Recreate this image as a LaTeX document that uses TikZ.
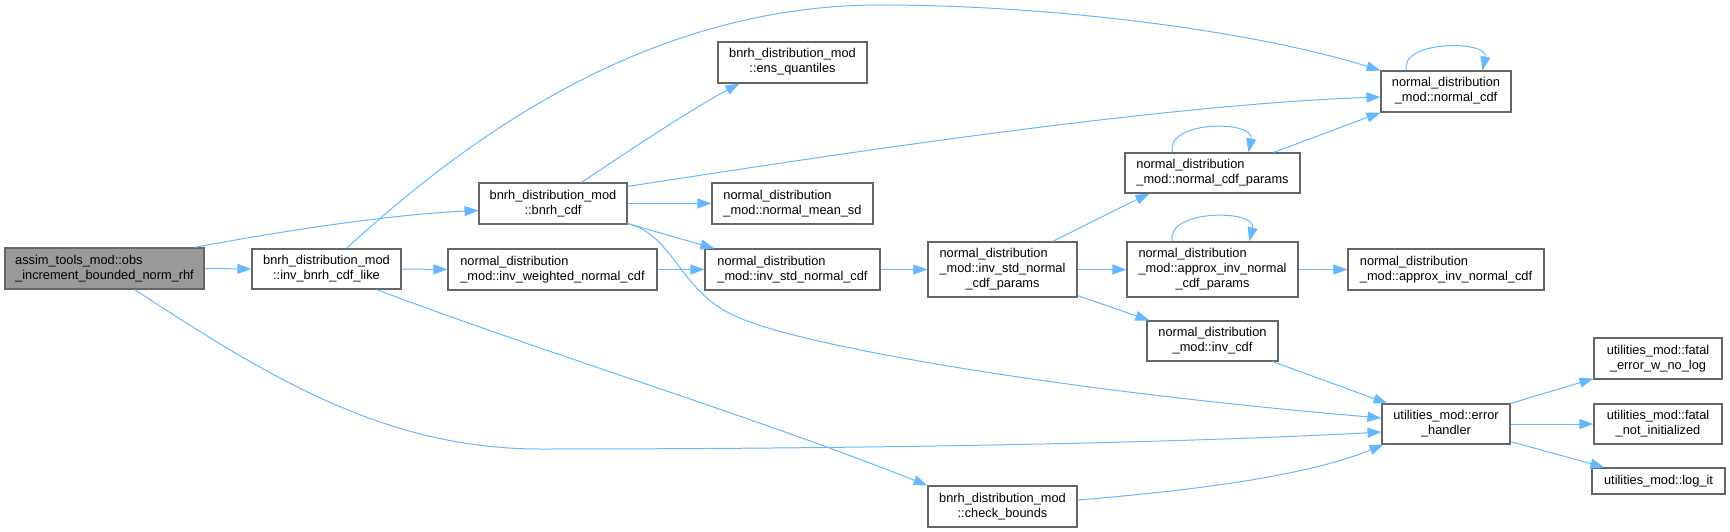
\documentclass[tikz,border=0pt]{standalone}
\usepackage{fontspec}
\setmainfont{Liberation Sans}
\usetikzlibrary{arrows.meta,calc}
\definecolor{edgec}{HTML}{63B8FF}
\definecolor{boxc}{HTML}{666666}
\definecolor{hl}{HTML}{999999}
\newcommand\lbl[2]{\begin{tabular}{@{}l@{}}#1\\\multicolumn{1}{@{}c@{}}{#2}\end{tabular}}
\newcommand\lblthree[3]{\begin{tabular}{@{}l@{}}#1\\#2\\\multicolumn{1}{@{}c@{}}{#3}\end{tabular}}
\tikzset{
  box/.style={draw=boxc, line width=1.1pt, fill=white, inner sep=0pt, text=black,
    font=\fontsize{12.8}{15}\selectfont},
  sz/.style 2 args={minimum width=#1pt, minimum height=#2pt},
  edge/.style={draw=edgec, line width=1pt, -{Triangle[length=14pt,width=10pt]}}
}
\begin{document}
\begin{tikzpicture}[x=1pt,y=-1pt]
\useasboundingbox (0,0) rectangle (1730,532);
% nodes
\node[box,sz={199}{41},fill=hl] (assim) at (104.5,268.5) {\lbl{assim\_tools\_mod::obs}{\_increment\_bounded\_norm\_rhf}};
\node[box,sz={149}{40}] (invlike) at (326.5,269) {\lbl{bnrh\_distribution\_mod}{::inv\_bnrh\_cdf\_like}};
\node[box,sz={148}{41}] (bnrh) at (553,203.5) {\lbl{bnrh\_distribution\_mod}{::bnrh\_cdf}};
\node[box,sz={149}{41}] (ensq) at (792.5,62.5) {\lbl{bnrh\_distribution\_mod}{::ens\_quantiles}};
\node[box,sz={161}{41}] (meansd) at (792.5,203.5) {\lbl{normal\_distribution}{\_mod::normal\_mean\_sd}};
\node[box,sz={209}{41}] (invw) at (552.5,269.5) {\lbl{normal\_distribution}{\_mod::inv\_weighted\_normal\_cdf}};
\node[box,sz={175}{41}] (invstd) at (792.5,269.5) {\lbl{normal\_distribution}{\_mod::inv\_std\_normal\_cdf}};
\node[box,sz={149}{55}] (isp) at (1002.5,269.5) {\lblthree{normal\_distribution}{\_mod::inv\_std\_normal}{\_cdf\_params}};
\node[box,sz={175}{40}] (ncp) at (1212.5,173) {\lbl{normal\_distribution}{\_mod::normal\_cdf\_params}};
\node[box,sz={171}{55}] (aip) at (1212.5,269.5) {\lblthree{normal\_distribution}{\_mod::approx\_inv\_normal}{\_cdf\_params}};
\node[box,sz={130}{41}] (ncdf) at (1446,91.5) {\lbl{normal\_distribution}{\_mod::normal\_cdf}};
\node[box,sz={196}{41}] (aic) at (1446,269.5) {\lbl{normal\_distribution}{\_mod::approx\_inv\_normal\_cdf}};
\node[box,sz={131}{40}] (invcdf) at (1212.5,341) {\lbl{normal\_distribution}{\_mod::inv\_cdf}};
\node[box,sz={149}{41}] (chk) at (1002.5,506.5) {\lbl{bnrh\_distribution\_mod}{::check\_bounds}};
\node[box,sz={128}{40}] (err) at (1446,424) {\lbl{utilities\_mod::error}{\_handler}};
\node[box,sz={128}{41}] (fe) at (1658,358.5) {\lbl{utilities\_mod::fatal}{\_error\_w\_no\_log}};
\node[box,sz={128}{40}] (fn) at (1658,424) {\lbl{utilities\_mod::fatal}{\_not\_initialized}};
\node[box,sz={133}{26}] (logit) at (1658.5,481) {utilities\_mod::log\_it};
% edges
\draw[edge] ($(assim.north west)+(190,0)$) .. controls (260,235) and (380,215) .. ($(bnrh.west)+(0,7)$);
\draw[edge] (assim.east) -- (invlike.west);
\draw[edge] ($(assim.south west)+(130,0)$) .. controls (260,371) and (380,449) .. (540,449) .. controls (900,449) and (1200,442) .. ($(err.west)+(0,8)$);
\draw[edge] ($(invlike.north west)+(95,0)$) .. controls (470,135) and (650,5) .. (880,5) .. controls (1050,5) and (1250,30) .. (ncdf.north west);
\draw[edge] (invlike.east) -- (invw.west);
\draw[edge] ($(invlike.south west)+(125,0)$) .. controls (550,355) and (750,415) .. (chk.north west);
\draw[edge] (invw.east) -- (invstd.west);
\draw[edge] ($(bnrh.north west)+(103,0)$) .. controls (630,150) and (690,110) .. ($(ensq.south west)+(22,0)$);
\draw[edge] ($(bnrh.north east)+(0,4)$) .. controls (800,160) and (1150,105) .. ($(ncdf.west)+(0,5.5)$);
\draw[edge] (bnrh.east) -- (meansd.west);
\draw[edge] ($(bnrh.south east)+(0,-1)$) -- ($(invstd.north west)+(10,0)$);
\draw[edge] ($(bnrh.south east)+(0,-1)$) .. controls (675,235) and (680,295) .. (740,318) .. controls (800,345) and (1050,390) .. ($(err.west)+(0,-6)$);
\draw[edge] (invstd.east) -- (isp.west);
\draw[edge] ($(isp.north west)+(125,0)$) .. controls (1080,228) and (1115,210) .. ($(ncp.south west)+(25,0)$);
\draw[edge] (isp.east) -- (aip.west);
\draw[edge] ($(isp.south east)+(0,-2)$) -- ($(invcdf.north west)+(3,0)$);
\draw[edge] ($(ncp.north east)+(-27,0)$) -- (ncdf.south west);
\draw[edge] ($(ncp.north west)+(48,0)$) .. controls (1165,120) and (1255,120) .. ($(ncp.north west)+(124,0)$);
\draw[edge] ($(aip.north west)+(46,0)$) .. controls (1165,209) and (1257,209) .. ($(aip.north west)+(123,0)$);
\draw[edge] (aip.east) -- (aic.west);
\draw[edge] ($(ncdf.north west)+(26,0)$) .. controls (1399,40) and (1489,40) .. ($(ncdf.north west)+(102,0)$);
\draw[edge] ($(invcdf.south east)+(-6,0)$) -- ($(err.north west)+(6,0)$);
\draw[edge] ($(chk.east)+(0,-6.5)$) .. controls (1200,490) and (1310,475) .. ($(err.south west)+(2,0)$);
\draw[edge] (err.north east) -- ($(fe.south west)+(0,-1)$);
\draw[edge] (err.east) -- (fn.west);
\draw[edge] ($(err.south east)+(0,-3)$) -- ($(logit.north west)+(13,0)$);
\end{tikzpicture}
\end{document}
